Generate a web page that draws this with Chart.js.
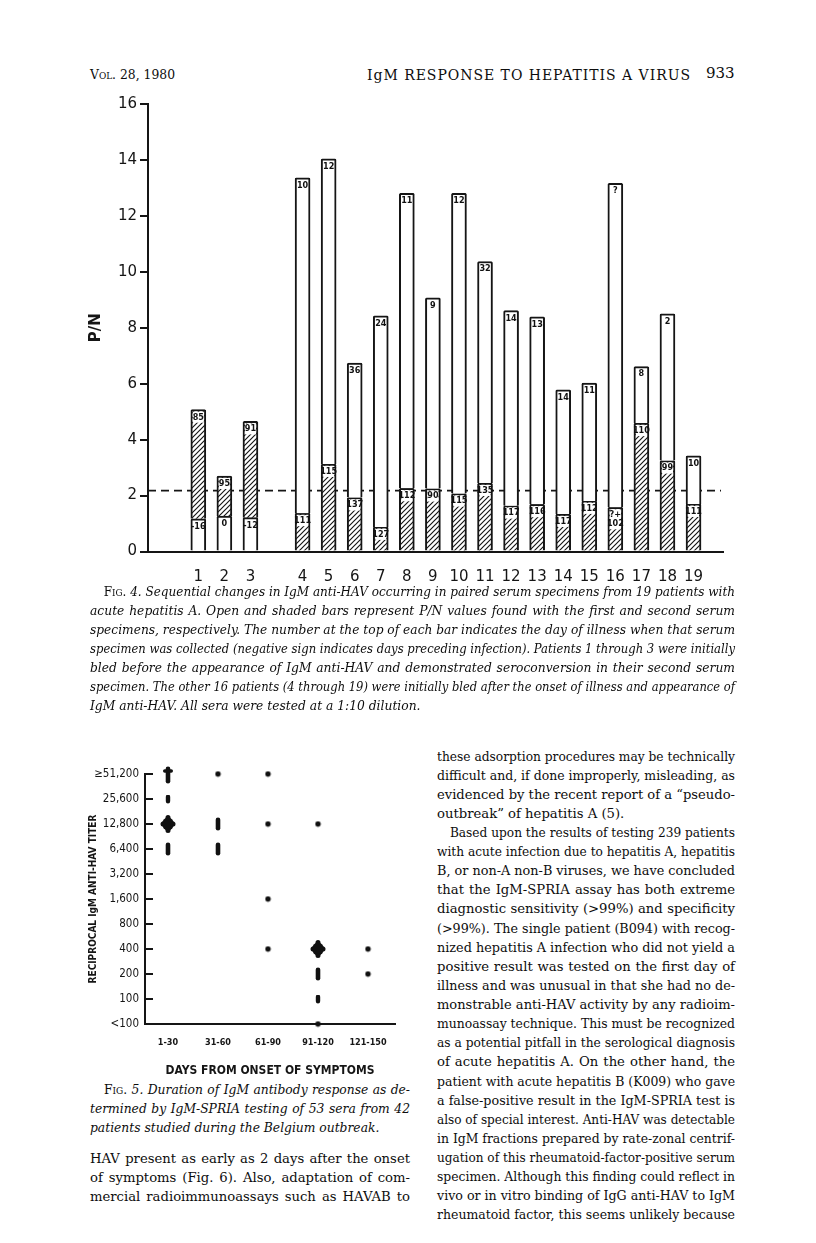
<!DOCTYPE html>
<html><head><meta charset="utf-8">
<title>IgM response to hepatitis A virus</title>
<script src="https://cdn.jsdelivr.net/npm/chart.js@4.4.1/dist/chart.umd.min.js"></script>
<style>
html,body{margin:0;padding:0;background:#fff}
body{position:relative;width:816px;height:1243px;overflow:hidden;color:#0d0d0d;font-family:"DejaVu Serif","Liberation Serif",serif}
.ln{position:absolute;white-space:nowrap;text-align:justify;text-align-last:justify}
.ln.last{text-align-last:left}
.body{font-size:13.2px;line-height:19px;height:19px}
.cap{font-size:12.3px;line-height:19px;height:19px;font-style:italic}
.sc{font-style:normal;font-variant:small-caps}
.hdr{position:absolute;font-size:12.5px;white-space:nowrap;line-height:18px}
canvas{position:absolute;display:block}
</style></head>
<body>
<div class="hdr" id="h1" style="left:90px;top:66px"><span style="font-variant:small-caps">Vol.</span> 28, 1980</div>
<div class="hdr" id="h2" style="left:367px;top:66px;font-size:14px">IgM RESPONSE TO HEPATITIS A VIRUS</div>
<div class="hdr" id="h3" style="left:706px;top:64px;font-size:15px">933</div>

<canvas id="fig4" width="700" height="505" style="left:60px;top:90px"></canvas>
<canvas id="fig5" width="380" height="330" style="left:42px;top:751px"></canvas>
<div id="text"></div>

<script>
// ---------------- Fig. 4 data ----------------
const patients  = ['1','2','3','4','5','6','7','8','9','10','11','12','13','14','15','16','17','18','19'];
const firstPN   = [1.17,1.27,1.21,13.36,14.04,6.74,8.43,12.81,9.07,12.81,10.37,8.61,8.39,5.78,6.02,13.16,6.61,8.50,3.42];
const secondPN  = [5.07,2.70,4.65,1.37,3.13,1.93,0.88,2.26,2.25,2.07,2.45,1.64,1.69,1.34,1.81,1.58,4.59,3.25,1.70];
const firstDay  = ['-16','0','-12','10','12','36','24','11','9','12','32','14','13','14','11','?','8','2','10'];
const secondDay = ['85','95','91','111','115','137','127','112','90','115','135','117','116','117','112','?+\n102','110','99','111'];
const pnTicks   = [0,2,4,6,8,10,12,14,16];
const CUTOFF_PN = 2.18;
const GAP_AFTER = 3;   // empty slot between patient 3 and patient 4

// ---------------- Fig. 5 data ----------------
const dayGroups   = ['1-30','31-60','61-90','91-120','121-150'];
const titerLevels = ['<100','100','200','400','800','1,600','3,200','6,400','12,800','25,600','\u226551,200'];
const seraGroup   = [0,0,0,0, 1,1,1, 2,2,2,2, 3,3,3,3,3, 4,4];
const seraTiter   = [10,9,8,7, 10,8,7, 10,8,5,3, 8,3,2,1,0, 3,2];
const seraCount   = [4,2,12,3, 1,3,3, 1,1,1,1, 1,12,3,2,1, 1,1];

// ---------------- text ----------------
const cap4Lines = [
 ['<span class="sc">Fig.</span> 4. Sequential changes in IgM anti-HAV occurring in paired serum specimens from 19 patients with','indent'],
 ['acute hepatitis A. Open and shaded bars represent P/N values found with the first and second serum',''],
 ['specimens, respectively. The number at the top of each bar indicates the day of illness when that serum',''],
 ['specimen was collected (negative sign indicates days preceding infection). Patients 1 through 3 were initially',''],
 ['bled before the appearance of IgM anti-HAV and demonstrated seroconversion in their second serum',''],
 ['specimen. The other 16 patients (4 through 19) were initially bled after the onset of illness and appearance of',''],
 ['IgM anti-HAV. All sera were tested at a 1:10 dilution.','last']
];
const cap5Lines = [
 ['<span class="sc">Fig.</span> 5. Duration of IgM antibody response as de-','indent'],
 ['termined by IgM-SPRIA testing of 53 sera from 42',''],
 ['patients studied during the Belgium outbreak.','last']
];
const leftLines = [
 ['HAV present as early as 2 days after the onset',''],
 ['of symptoms (Fig. 6). Also, adaptation of com-',''],
 ['mercial radioimmunoassays such as HAVAB to','']
];
const rightLines = [
 ['these adsorption procedures may be technically',''],
 ['difficult and, if done improperly, misleading, as',''],
 ['evidenced by the recent report of a \u201cpseudo-',''],
 ['outbreak\u201d of hepatitis A (5).','last'],
 ['Based upon the results of testing 239 patients','indent'],
 ['with acute infection due to hepatitis A, hepatitis',''],
 ['B, or non-A non-B viruses, we have concluded',''],
 ['that the IgM-SPRIA assay has both extreme',''],
 ['diagnostic sensitivity (&gt;99%) and specificity',''],
 ['(&gt;99%). The single patient (B094) with recog-',''],
 ['nized hepatitis A infection who did not yield a',''],
 ['positive result was tested on the first day of',''],
 ['illness and was unusual in that she had no de-',''],
 ['monstrable anti-HAV activity by any radioim-',''],
 ['munoassay technique. This must be recognized',''],
 ['as a potential pitfall in the serological diagnosis',''],
 ['of acute hepatitis A. On the other hand, the',''],
 ['patient with acute hepatitis B (K009) who gave',''],
 ['a false-positive result in the IgM-SPRIA test is',''],
 ['also of special interest. Anti-HAV was detectable',''],
 ['in IgM fractions prepared by rate-zonal centrif-',''],
 ['ugation of this rheumatoid-factor-positive serum',''],
 ['specimen. Although this finding could reflect in',''],
 ['vivo or in vitro binding of IgG anti-HAV to IgM',''],
 ['rheumatoid factor, this seems unlikely because','']
];

function naturalWidth(html, cls, style){
  const probe = document.createElement('span');
  probe.className = cls;
  probe.style.cssText = 'white-space:nowrap;visibility:hidden;position:absolute;left:0;top:0;' + (style || '');
  probe.innerHTML = html;
  document.body.appendChild(probe);
  const w = probe.getBoundingClientRect().width;
  document.body.removeChild(probe);
  return w;
}
function placeLines(lines, cls, left, width, firstCenter, step, indent){
  const host = document.getElementById('text');
  lines.forEach(([html, flag], i) => {
    const d = document.createElement('div');
    d.className = 'ln ' + cls + (flag === 'last' ? ' last' : '');
    d.innerHTML = html;
    d.style.left = left + 'px';
    d.style.width = width + 'px';
    if (flag === 'indent') d.style.textIndent = indent + 'px';
    host.appendChild(d);
    const h = d.getBoundingClientRect().height;
    d.style.top = (firstCenter + i * step - h / 2) + 'px';
    const nat = naturalWidth(html, cls, cls === 'cap' ? 'font-style:italic' : '') + (flag === 'indent' ? indent : 0);
    if (nat > width) {
      d.style.width = nat + 'px';
      d.style.transformOrigin = '0 50%';
      d.style.transform = 'scaleX(' + (width / nat) + ')';
    }
  });
}
placeLines(cap4Lines, 'cap', 90, 645, 592, 19, 14);
placeLines(cap5Lines, 'cap', 90, 320, 1090, 19, 14);
placeLines(leftLines, 'body', 90, 320, 1158, 19, 14);
placeLines(rightLines, 'body', 437, 298, 756, 19.12, 14);

// fit header items to their printed widths
function fitHeader(id, target){
  const el = document.getElementById(id);
  const n = el.textContent.length - 1;
  const w = el.getBoundingClientRect().width;
  if (w < target) el.style.letterSpacing = ((target - w) / n) + 'px';
  else { el.style.transformOrigin = '0 50%'; el.style.transform = 'scaleX(' + (target / w) + ')'; }
}
fitHeader('h1', 85);
fitHeader('h2', 323);

// ---------------- Fig. 4 chart ----------------
const slotOf = i => i + 1 + (i >= GAP_AFTER ? 1 : 0);
const slotLabel = {};
patients.forEach((p, i) => { slotLabel[slotOf(i)] = p; });

const c4 = document.getElementById('fig4');
const ctx4 = c4.getContext('2d');
function hatchPattern(ctx){
  const s = 5, c = document.createElement('canvas');
  c.width = s; c.height = s;
  const g = c.getContext('2d');
  g.fillStyle = '#fff'; g.fillRect(0,0,s,s);
  g.strokeStyle = '#151515'; g.lineWidth = 1.15;
  g.beginPath();
  g.moveTo(-1, s+1); g.lineTo(s+1, -1);
  g.moveTo(-1, 1); g.lineTo(1, -1);
  g.moveTo(s-1, s+1); g.lineTo(s+1, s-1);
  g.stroke();
  return ctx.createPattern(c, 'repeat');
}
const HATCH = hatchPattern(ctx4);

const openData  = patients.map((p,i) => ({x: slotOf(i), y: firstPN[i] <= secondPN[i] ? [0, firstPN[i]] : [secondPN[i], firstPN[i]]}));
const shadeData = patients.map((p,i) => ({x: slotOf(i), y: secondPN[i] >= firstPN[i] ? [firstPN[i], secondPN[i]] : [0, secondPN[i]]}));

const cutoffLine = {
  id: 'cutoffLine',
  beforeDatasetsDraw(chart){
    const {ctx, chartArea, scales} = chart;
    const y = scales.y.getPixelForValue(CUTOFF_PN);
    ctx.save();
    ctx.strokeStyle = '#151515'; ctx.lineWidth = 1.7; ctx.setLineDash([8,5]);
    ctx.beginPath(); ctx.moveTo(chartArea.left, y); ctx.lineTo(chartArea.right - 2, y); ctx.stroke();
    ctx.restore();
  }
};
const barLabels = {
  id: 'barLabels',
  afterDatasetsDraw(chart){
    const ctx = chart.ctx;
    ctx.save();
    ctx.font = 'bold 9px "DejaVu Sans Condensed","Liberation Sans Narrow","DejaVu Sans",sans-serif';
    ctx.textAlign = 'center'; ctx.textBaseline = 'top';
    [[0, firstDay], [1, secondDay]].forEach(([di, labels]) => {
      chart.getDatasetMeta(di).data.forEach((el, i) => {
        const lines = labels[i].split('\n');
        const top = Math.min(el.y, el.base);
        const w = el.width;
        if (di === 1) {
          ctx.fillStyle = '#fff';
          ctx.fillRect(el.x - w/2 + 2, top + 2, w - 4, lines.length * 9 + 2);
        }
        ctx.fillStyle = '#111';
        lines.forEach((t, k) => ctx.fillText(t, el.x, top + 3 + k * 9));
      });
    });
    ctx.restore();
  }
};

new Chart(ctx4, {
  type: 'bar',
  data: {
    datasets: [
      {label: 'First specimen', data: openData, backgroundColor: '#fff', borderColor: '#151515',
       borderWidth: 2, borderSkipped: 'start', borderRadius: 1.5, barThickness: 15, grouped: false},
      {label: 'Second specimen', data: shadeData, backgroundColor: HATCH, borderColor: '#151515',
       borderWidth: 2, borderSkipped: 'start', borderRadius: 1.5, barThickness: 15, grouped: false}
    ]
  },
  options: {
    responsive: false, animation: false, devicePixelRatio: 1,
    layout: {padding: {left: 0, right: 37, top: 14, bottom: 0}},
    plugins: {legend: {display: false}, tooltip: {enabled: false}},
    scales: {
      x: {type: 'linear', min: -0.35, max: 20.55,
          grid: {display: true, drawOnChartArea: false, drawTicks: false},
          border: {display: true, color: '#151515', width: 2},
          afterBuildTicks: s => { s.ticks = patients.map((p,i) => ({value: slotOf(i)})); },
          ticks: {autoSkip: false, maxRotation: 0, padding: 17, color: '#151515',
                  font: {family: '"DejaVu Sans", sans-serif', size: 15},
                  callback: v => slotLabel[v] || ''},
          afterFit: s => { s.height = 43.5; }},
      y: {min: 0, max: 16,
          afterBuildTicks: s => { s.ticks = pnTicks.map(v => ({value: v})); },
          grid: {display: true, drawOnChartArea: false, drawTicks: true, tickLength: 8, color: '#151515', lineWidth: 2},
          border: {display: true, color: '#151515', width: 2},
          ticks: {padding: 3, color: '#151515', font: {family: '"DejaVu Sans", sans-serif', size: 15}},
          title: {display: true, text: 'P/N', color: '#151515', padding: {top: 27, bottom: 0},
                  font: {family: '"DejaVu Sans", sans-serif', size: 15, weight: 'bold'}},
          afterFit: s => { s.width = 88; }}
    }
  },
  plugins: [cutoffLine, barLabels]
});

// ---------------- Fig. 5 chart ----------------
function capsule(g, cx, cy, w, h){
  const r = Math.min(w, h) / 2;
  g.beginPath();
  g.moveTo(cx - w/2 + r, cy - h/2);
  g.arcTo(cx + w/2, cy - h/2, cx + w/2, cy + h/2, r);
  g.arcTo(cx + w/2, cy + h/2, cx - w/2, cy + h/2, r);
  g.arcTo(cx - w/2, cy + h/2, cx - w/2, cy - h/2, r);
  g.arcTo(cx - w/2, cy - h/2, cx + w/2, cy - h/2, r);
  g.closePath(); g.fill();
}
const clusterCache = {};
function clusterImage(n){
  if (clusterCache[n]) return clusterCache[n];
  const c = document.createElement('canvas');
  let W = 7, H = 7;
  if (n === 2) { W = 6; H = 10; }
  else if (n === 3) { W = 6; H = 14; }
  else if (n >= 4 && n < 10) { W = 12; H = 20; }
  else if (n >= 10) { W = 18; H = 20; }
  c.width = W; c.height = H;
  const g = c.getContext('2d');
  g.fillStyle = '#111';
  const cx = W/2, cy = H/2;
  if (n === 1) { g.beginPath(); g.arc(cx, cy, 2.7, 0, Math.PI*2); g.fill(); }
  else if (n === 2) { capsule(g, cx, cy, 4.4, 9); }
  else if (n === 3) { capsule(g, cx, cy, 4.6, 13); }
  else if (n < 10) { capsule(g, cx, cy + 1, 4.6, 17); capsule(g, cx, cy - 3, 10, 3.4); }
  else {
    capsule(g, cx, cy, 5, 18); capsule(g, cx, cy, 15, 5);
    g.beginPath(); g.ellipse(cx, cy, 6, 6.5, 0, 0, Math.PI*2); g.fill();
  }
  clusterCache[n] = c;
  return c;
}
const seraPoints = seraGroup.map((g, i) => ({x: g, y: seraTiter[i]}));
const inwardTicks = {
  id: 'inwardTicks',
  afterDraw(chart){
    const {ctx, chartArea, scales} = chart;
    ctx.save(); ctx.strokeStyle = '#151515'; ctx.lineWidth = 2;
    scales.y.ticks.forEach(t => {
      const py = scales.y.getPixelForValue(t.value);
      ctx.beginPath(); ctx.moveTo(chartArea.left, py); ctx.lineTo(chartArea.left + 8, py); ctx.stroke();
    });
    ctx.restore();
  }
};
const condensed = '"DejaVu Sans Condensed","Liberation Sans Narrow","DejaVu Sans",sans-serif';
new Chart(document.getElementById('fig5').getContext('2d'), {
  type: 'scatter',
  data: {datasets: [{label: 'Sera', data: seraPoints, clip: false,
    pointStyle: c => clusterImage(seraCount[c.dataIndex]), pointRadius: 3, backgroundColor: '#111', borderColor: '#111'}]},
  options: {
    responsive: false, animation: false, devicePixelRatio: 1,
    layout: {padding: {left: 0, right: 27, top: 23, bottom: 0}},
    plugins: {legend: {display: false}, tooltip: {enabled: false}},
    scales: {
      x: {type: 'linear', min: -0.46, max: 4.54,
          grid: {display: true, drawOnChartArea: false, drawTicks: false},
          border: {display: true, color: '#151515', width: 2},
          afterBuildTicks: s => { s.ticks = dayGroups.map((d, i) => ({value: i})); },
          ticks: {autoSkip: false, maxRotation: 0, padding: 13, color: '#151515',
                  font: {family: condensed, size: 9, weight: 'bold'},
                  callback: v => dayGroups[v] ?? ''},
          title: {display: true, text: 'DAYS FROM ONSET OF SYMPTOMS', color: '#151515', padding: {top: 0, bottom: 3},
                  font: {family: condensed, size: 12, weight: 'bold'}},
          afterFit: s => { s.height = 57; }},
      y: {type: 'linear', min: 0, max: 10,
          grid: {display: true, drawOnChartArea: false, drawTicks: false},
          border: {display: true, color: '#151515', width: 2},
          afterBuildTicks: s => { s.ticks = titerLevels.map((t, i) => ({value: i})); },
          ticks: {autoSkip: false, padding: 6, color: '#151515',
                  font: {family: condensed, size: 11.5},
                  callback: v => titerLevels[v] ?? ''},
          title: {display: true, text: 'RECIPROCAL IgM ANTI-HAV TITER', color: '#151515', padding: {top: 45, bottom: 0},
                  font: {family: condensed, size: 10, weight: 'bold'}},
          afterFit: s => { s.width = 103; }}
    }
  },
  plugins: [inwardTicks]
});
</script>
</body></html>
